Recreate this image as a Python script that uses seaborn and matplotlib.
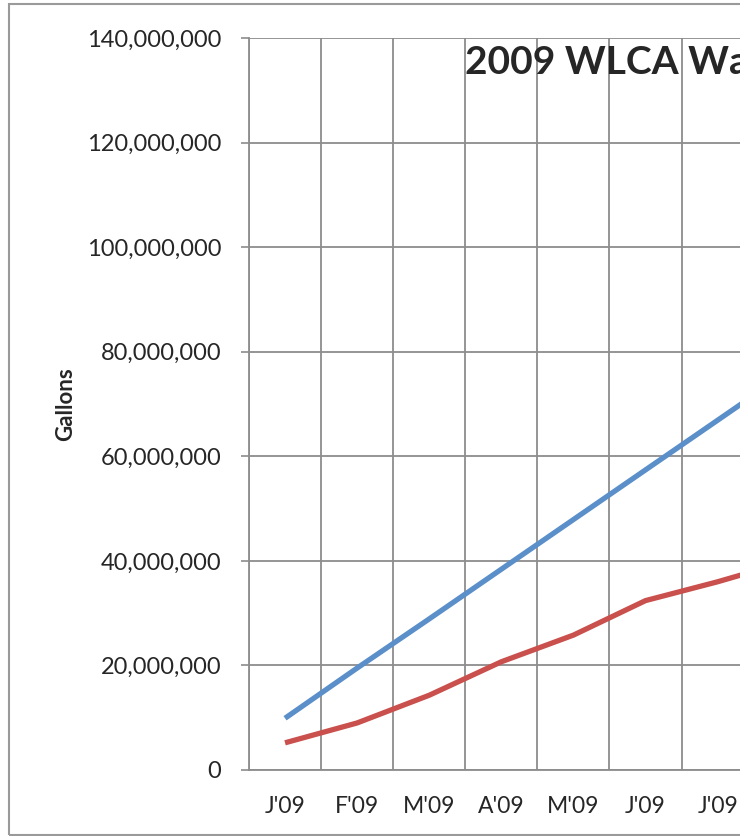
import numpy as np
import pandas as pd
import matplotlib
matplotlib.use("Agg")
import matplotlib.pyplot as plt
import seaborn as sns
from matplotlib.ticker import FuncFormatter, FixedLocator
from matplotlib.patches import Rectangle

# --- data (months after July are cut off in the reference) ---
months = ["J'09", "F'09", "M'09", "A'09", "M'09", "J'09", "J'09",
          "A'09", "S'09", "O'09", "N'09", "D'09"]
target = [9.9e6, 19.5e6, 28.9e6, 38.4e6, 47.9e6, 57.4e6, 66.9e6,
          76.4e6, 85.9e6, 95.4e6, 104.9e6, 114.4e6]
actual = [5.2e6, 9.0e6, 14.3e6, 20.7e6, 25.8e6, 32.4e6, 36.0e6,
          40.0e6, 44.0e6, 48.0e6, 52.0e6, 56.0e6]

df = pd.DataFrame({
    'pos': np.arange(len(months)) + 0.5,
    'Target': target,
    'Actual': actual,
})
long = df.melt(id_vars='pos', var_name='series', value_name='gallons')

sns.set_style("white")
plt.rcParams['font.family'] = ['Lato', 'DejaVu Sans']

W, H = 748, 836
fig = plt.figure(figsize=(W / 100, H / 100), dpi=100)

# plot area: starts at x=249, y 38..770; 72.1 px per month, runs past the right edge
x0, ytop, ybot, step = 249, 38, 770, 72.1
ax = fig.add_axes([x0 / W, (H - ybot) / H, 12 * step / W, (ybot - ytop) / H])

sns.lineplot(data=long, x='pos', y='gallons', hue='series',
             palette={'Target': '#5B8FC9', 'Actual': '#C9504D'},
             linewidth=3.8, legend=False, ax=ax, solid_capstyle='butt')

grid_c = '#8C8C8C'
ax.set_xlim(0, 12)
ax.set_ylim(0, 140e6)
ax.set_yticks(np.arange(0, 140e6 + 1, 20e6))
ax.yaxis.set_major_formatter(FuncFormatter(lambda v, p: f"{v:,.0f}"))
ax.xaxis.set_major_locator(FixedLocator(np.arange(0, 13)))
ax.xaxis.set_minor_locator(FixedLocator(df['pos']))
ax.set_xticklabels([])
ax.set_xticklabels(months, minor=True)
ax.tick_params(axis='x', which='major', length=8, width=1.2, color=grid_c, direction='out')
ax.tick_params(axis='x', which='minor', length=0, labelsize=16.5, pad=19)
ax.tick_params(axis='y', length=6, width=1.2, color=grid_c, labelsize=17, pad=14, left=True)
ax.grid(True, which='major', color=grid_c, linewidth=1.3)
ax.set_axisbelow(True)
for s in ['top', 'right']:
    ax.spines[s].set_visible(False)
for s in ['left', 'bottom']:
    ax.spines[s].set_color(grid_c)
    ax.spines[s].set_linewidth(1.3)
ax.set_xlabel('')
ax.set_ylabel('Gallons', fontsize=16, fontweight='bold', va='center')
ax.yaxis.set_label_coords(-(x0 - 66) / (12 * step), 0.5)

# month labels that fall outside the cropped picture are not shown
for lab, p in zip(ax.get_xticklabels(minor=True), df['pos']):
    if x0 + p * step > 730:
        lab.set_visible(False)

fig.text(465 / W, 1 - 63 / H, '2009 WLCA Water Usage', fontsize=28,
         fontweight='bold', ha='left', va='center')

# chart frame (only left, top and bottom sides are visible)
fig.patches.append(Rectangle((8.5 / W, 1.5 / H), 2.0, (832 - 1.5) / H,
                             transform=fig.transFigure, fill=False,
                             edgecolor='#9A9A9A', linewidth=1.5))
# the reference is cropped at x=740
fig.patches.append(Rectangle((740 / W, 0), 1, 1, transform=fig.transFigure,
                             facecolor='white', edgecolor='none', zorder=10))

fig.savefig('out.png', dpi=100)
